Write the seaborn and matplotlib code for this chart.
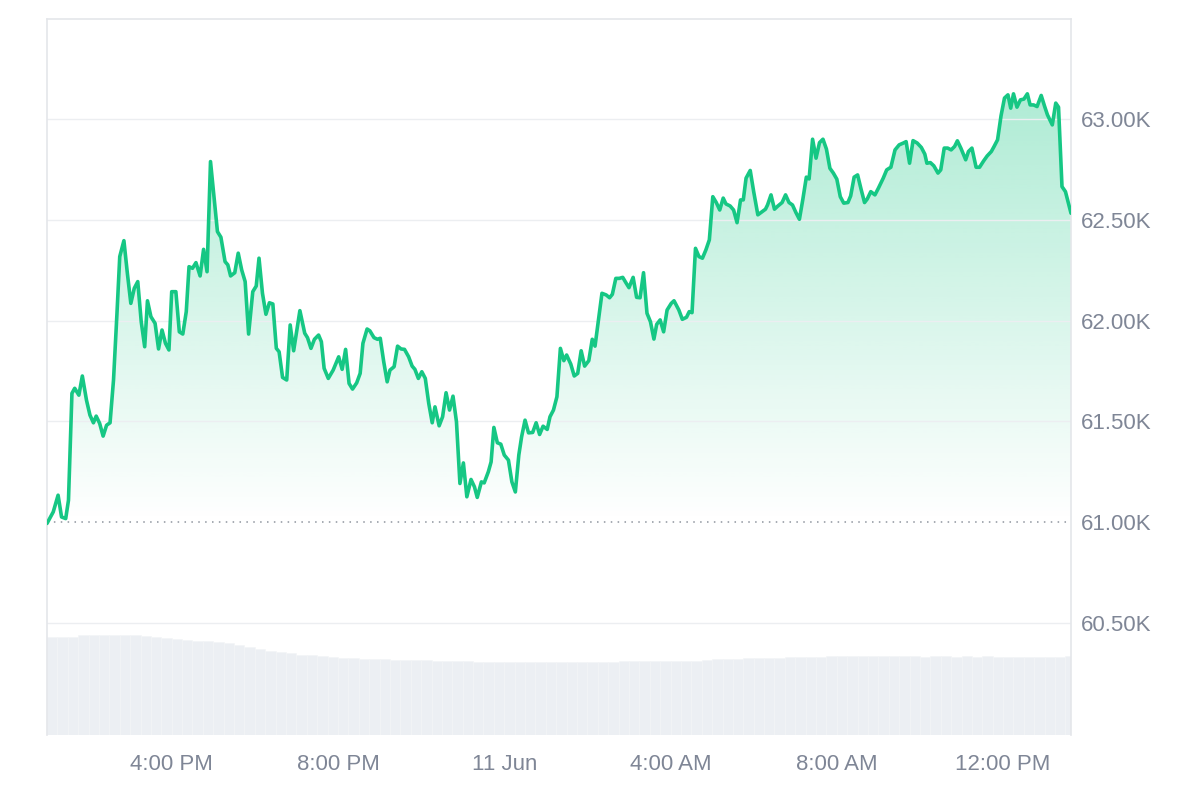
import numpy as np
import pandas as pd
import matplotlib
matplotlib.use("Agg")
import matplotlib.pyplot as plt
import matplotlib.dates as mdates
from matplotlib.colors import to_rgb
import seaborn as sns

# ============================================================
# Data (BTC price, 10-11 Jun)
# ============================================================
START = pd.Timestamp("2024-06-10 13:00")

# minutes after START for each price point
MINUTES = [
    0, 9, 16, 21, 27, 31, 36, 40, 46, 51, 57, 62, 67, 71, 76, 81, 86, 91, 96, 101,
    105, 111, 116, 121, 126, 131, 136, 141, 145, 150, 156, 161, 166, 171, 176, 180, 186, 191, 196, 201,
    205, 210, 215, 221, 226, 231, 236, 241, 246, 251, 257, 261, 265, 271, 276, 281, 286, 291, 297, 302, 306,
    311, 316, 321, 326, 331, 335, 340, 346, 351, 356, 365, 372, 376, 381, 386, 392, 396, 400, 406, 413,
    421, 426, 431, 436, 441, 447, 452, 456, 462, 466, 472, 477, 481, 486, 491, 495, 501, 506, 511, 516,
    522, 527, 531, 536, 541, 546, 551, 556, 560, 566, 571, 576, 581, 586, 591, 596, 601, 606,
    612, 617, 621, 627, 631, 637, 641, 645, 650, 655, 660, 666, 671, 676, 681, 685, 690, 695, 701, 706,
    711, 716, 722, 726, 731, 736, 741, 746, 750, 756, 761, 766, 771, 776, 782, 787, 791, 796, 801, 807,
    812, 816, 821, 826, 831, 836, 840, 846, 851, 856, 861, 866, 871, 876, 880, 885, 890, 895, 901, 905,
    912, 917, 923, 927, 931, 936, 941, 946, 951, 956, 961, 966, 971, 976, 980, 986, 991, 996, 1001, 1005,
    1009, 1015, 1020, 1026, 1031, 1037, 1040, 1045, 1050, 1055, 1061, 1066, 1071, 1076, 1081, 1086, 1091, 1096, 1100, 1105,
    1110, 1115, 1120, 1125, 1130, 1135, 1140, 1145, 1150, 1156, 1160, 1165, 1170, 1175, 1180, 1184,
    1189, 1195, 1200, 1207, 1212, 1218, 1224, 1230, 1236, 1240, 1245, 1250, 1256, 1262, 1267, 1270, 1275, 1280, 1286, 1290,
    1295, 1300, 1305, 1310, 1314, 1319, 1326, 1330, 1335, 1341, 1346, 1352, 1357, 1363, 1367, 1372, 1377, 1382, 1387, 1391,
    1395, 1400, 1405, 1410, 1415, 1419, 1424, 1429, 1435, 1440, 1444, 1451, 1456, 1460, 1465, 1470, 1478,
]

PRICE = [
    60994, 61051, 61134, 61026, 61018, 61109, 61639, 61664, 61630, 61725, 61605, 61531, 61493, 61526, 61490, 61427, 61481, 61493, 61705, 62036,
    62317, 62396, 62234, 62085, 62160, 62193, 61994, 61870, 62098, 62019, 61986, 61859, 61953, 61887, 61854, 62143, 62143, 61944, 61933, 62044,
    62267, 62259, 62287, 62221, 62353, 62242, 62788, 62614, 62441, 62413, 62292, 62276, 62221, 62237, 62334, 62251, 62193, 61933, 62143, 62171, 62309,
    62135, 62031, 62088, 62082, 61862, 61845, 61718, 61705, 61978, 61850, 62049, 61937, 61915, 61862, 61907, 61928, 61895, 61763, 61713, 61754,
    61820, 61758, 61857, 61688, 61660, 61691, 61738, 61887, 61958, 61949, 61915, 61907, 61912, 61796, 61696, 61754, 61771, 61873, 61859, 61857,
    61820, 61774, 61758, 61713, 61746, 61713, 61589, 61493, 61572, 61478, 61523, 61642, 61556, 61625, 61498, 61192, 61294, 61126,
    61212, 61175, 61123, 61200, 61195, 61250, 61299, 61470, 61394, 61387, 61333, 61308, 61200, 61150, 61333, 61423, 61506, 61443, 61445, 61493,
    61435, 61476, 61460, 61523, 61556, 61622, 61862, 61801, 61829, 61784, 61725, 61738, 61850, 61774, 61801, 61907, 61873, 62003, 62135, 62127,
    62113, 62130, 62209, 62209, 62214, 62185, 62163, 62214, 62115, 62113, 62237, 62036, 61994, 61908, 61981, 62003, 61944, 62052, 62085, 62098,
    62052, 62006, 62016, 62044, 62039, 62358, 62317, 62309, 62350, 62400, 62614, 62585, 62548, 62607, 62578, 62568, 62548, 62485, 62598, 62598,
    62706, 62744, 62639, 62524, 62537, 62552, 62573, 62623, 62552, 62568, 62585, 62623, 62585, 62573, 62535, 62502, 62602, 62711, 62702, 62899,
    62805, 62882, 62899, 62850, 62755, 62731, 62701, 62614, 62582, 62585, 62618, 62711, 62722, 62651, 62585, 62603,
    62639, 62623, 62656, 62706, 62747, 62760, 62846, 62871, 62880, 62887, 62780, 62892, 62880, 62858, 62825, 62780, 62783, 62767, 62731, 62747,
    62855, 62855, 62846, 62863, 62891, 62855, 62797, 62838, 62855, 62760, 62760, 62792, 62816, 62838, 62863, 62896, 63015, 63103, 63119, 63053,
    63124, 63058, 63094, 63098, 63124, 63069, 63069, 63061, 63116, 63061, 63020, 62970, 63078, 63058, 62664, 62639, 62532,
]

# volume (billion USD), one bar every 15 minutes from START
VOLUME = [
    29.5, 29.5, 29.5, 30.0, 30.0, 30.0, 30.0, 30.0, 30.0, 29.8,
    29.3, 29.0, 28.9, 28.4, 28.3, 28.3, 28.0, 27.5, 27.0, 26.4,
    25.8, 25.2, 24.8, 24.5, 24.1, 23.9, 23.8, 23.4, 23.2, 23.0,
    22.9, 22.7, 22.7, 22.6, 22.5, 22.4, 22.4, 22.2, 22.1, 22.1,
    22.1, 22.0, 22.0, 21.9, 22.0, 22.0, 21.9, 22.0, 21.9, 21.9,
    22.0, 22.0, 21.9, 22.0, 22.0, 22.1, 22.1, 22.1, 22.1, 22.2,
    22.2, 22.3, 22.3, 22.5, 22.7, 22.8, 22.9, 23.0, 23.1, 23.2,
    23.2, 23.3, 23.4, 23.4, 23.5, 23.6, 23.6, 23.7, 23.6, 23.6,
    23.6, 23.7, 23.6, 23.6, 23.5, 23.6, 23.6, 23.5, 23.6, 23.5,
    23.6, 23.5, 23.5, 23.5, 23.4, 23.4, 23.4, 23.5, 23.6,
]
VOL_STEP_MIN = 15

PRICE_TICKS = [60500, 61000, 61500, 62000, 62500, 63000]
BASELINE = 61000
X_TICKS = ["2024-06-10 16:00", "2024-06-10 20:00", "2024-06-11 00:00",
           "2024-06-11 04:00", "2024-06-11 08:00", "2024-06-11 12:00"]
X_LABELS = ["4:00 PM", "8:00 PM", "11 Jun", "4:00 AM", "8:00 AM", "12:00 PM"]

GREEN = "#16c784"
GREY_TXT = "#7f8696"
GRID = "#eceef1"
BORDER = "#e4e6ea"
VOL_COLOR = "#eceff3"

# ============================================================
# Plot
# ============================================================
sns.set_theme(style="white")
plt.rcParams["font.family"] = ["Liberation Sans", "DejaVu Sans"]

df = pd.DataFrame({
    "time": START + pd.to_timedelta(MINUTES, unit="m"),
    "price": PRICE,
})
vol_df = pd.DataFrame({
    "time": START + pd.to_timedelta(np.arange(len(VOLUME)) * VOL_STEP_MIN, unit="m"),
    "volume": VOLUME,
})

fig = plt.figure(figsize=(12, 8), dpi=100)
ax = fig.add_axes([47 / 1200, 1 - 735 / 800, (1071 - 47) / 1200, (735 - 19) / 800])
ax_vol = ax.twinx()

# volume bars in the background
t_vol = mdates.date2num(vol_df["time"])
ax_vol.bar(t_vol, vol_df["volume"], width=VOL_STEP_MIN / 1440,
           color=VOL_COLOR, edgecolor="#f3f5f7", linewidth=0.4, align="edge")
ax_vol.set_ylim(0, 716 * 0.3)
ax_vol.set_yticks([])
for s in ax_vol.spines.values():
    s.set_visible(False)

ax.set_zorder(ax_vol.get_zorder() + 1)
ax.patch.set_visible(False)

# price line
sns.lineplot(data=df, x="time", y="price", ax=ax, color=GREEN, linewidth=2.6,
             estimator=None, zorder=4)

t = mdates.date2num(df["time"])
x0, x1 = t[0], t[-1]

# gradient fill between price and baseline
poly = ax.fill_between(t, df["price"], BASELINE, color="none", linewidth=0)
top = max(PRICE) + 40
grad = np.zeros((256, 1, 4))
grad[..., :3] = to_rgb(GREEN)
grad[:, 0, 3] = np.linspace(0.0, 0.35, 256)
img = ax.imshow(grad, extent=[x0, x1, BASELINE, top], origin="lower",
                aspect="auto", zorder=1, interpolation="bilinear")
img.set_clip_path(poly.get_paths()[0], transform=ax.transData)

# grid lines and dotted baseline
for v in PRICE_TICKS:
    if v == BASELINE:
        ax.axhline(v, color="#8e949e", linewidth=1.1, linestyle=(0, (1, 3.5)), zorder=2)
    else:
        ax.axhline(v, color=GRID, linewidth=1.0, zorder=2)

ax.set_xlim(x0, x1)
ax.set_ylim(59945, 63495)

ax.yaxis.tick_right()
ax.set_yticks(PRICE_TICKS)
ax.set_yticklabels([f"{v / 1000:.2f}K" for v in PRICE_TICKS])
ax.set_xticks(mdates.date2num(pd.to_datetime(X_TICKS)))
ax.set_xticklabels(X_LABELS)
ax.tick_params(axis="y", length=0, pad=7, labelsize=16, labelcolor=GREY_TXT)
ax.tick_params(axis="x", length=0, pad=14, labelsize=16, labelcolor=GREY_TXT)
ax.set_xlabel("")
ax.set_ylabel("")
ax_vol.set_ylabel("")

for side in ["top", "left", "right"]:
    ax.spines[side].set_color(BORDER)
    ax.spines[side].set_linewidth(1.2)
ax.spines["bottom"].set_visible(False)

fig.savefig("out.png", dpi=100, facecolor="white")
